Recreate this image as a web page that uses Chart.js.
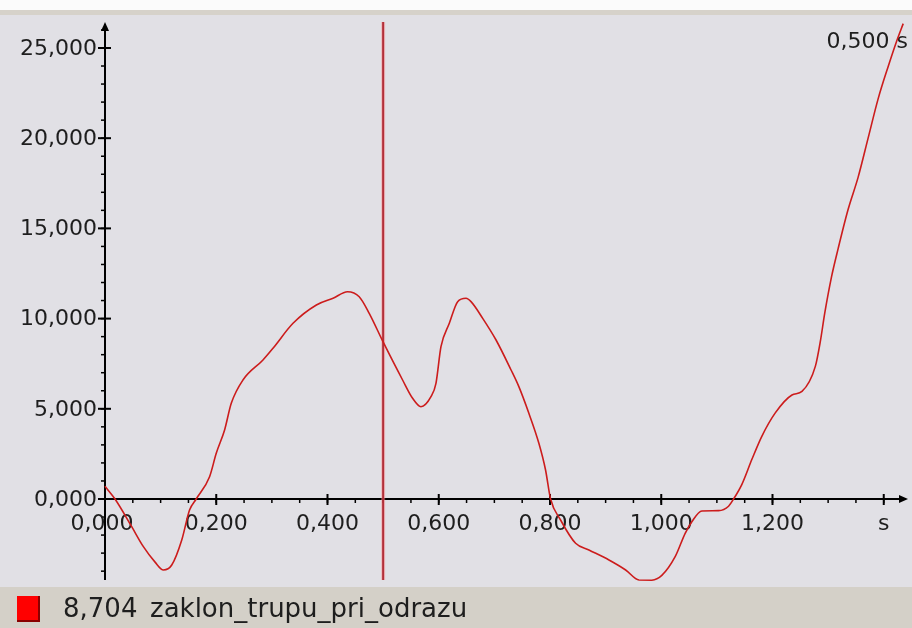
<!DOCTYPE html>
<html lang="cs">
<head>
    <meta charset="UTF-8" />
    <script src="https://cdn.jsdelivr.net/npm/chart.js"></script>
    <title>zaklon_trupu_pri_odrazu</title>
    <style>
        body { margin: 0; background: #e1e0e5; overflow: hidden; }
        canvas { display: block; }
    </style>
</head>
<body>
    <canvas id="graf" width="912" height="628"></canvas>
<script>

// cas [s]
var casy = [
    0.000, 0.018, 0.048, 0.069, 0.090, 0.105, 0.120, 0.138, 0.152, 0.164,
    0.188, 0.200, 0.215, 0.227, 0.248, 0.284, 0.302, 0.338, 0.380, 0.410,
    0.436, 0.457, 0.475, 0.500, 0.535, 0.553, 0.568, 0.586, 0.595, 0.604,
    0.619, 0.634, 0.649, 0.658, 0.679, 0.703, 0.730, 0.744, 0.762, 0.780,
    0.792, 0.801, 0.819, 0.846, 0.870, 0.906, 0.936, 0.960, 0.983, 1.001,
    1.025, 1.043, 1.055, 1.073, 1.103, 1.121, 1.130, 1.145, 1.163, 1.181,
    1.205, 1.235, 1.253, 1.277, 1.286, 1.294, 1.306, 1.318, 1.336, 1.354,
    1.372, 1.390, 1.408, 1.423, 1.435
];

// zaklon trupu
var hodnoty = [
    0.700, 0.000, -1.535, -2.643, -3.500, -3.935, -3.658, -2.272, -0.610, 0.000,
    1.236, 2.533, 3.825, 5.305, 6.596, 7.705, 8.353, 9.739, 10.754, 11.125,
    11.491, 11.214, 10.293, 8.704, 6.596, 5.582, 5.116, 5.670, 6.413, 8.444,
    9.739, 10.938, 11.125, 10.938, 10.015, 8.813, 7.151, 6.226, 4.750, 3.087,
    1.607, 0.000, -1.164, -2.456, -2.827, -3.381, -3.935, -4.490, -4.500, -4.236,
    -3.198, -1.901, -1.258, -0.665, -0.647, -0.400, 0.000, 0.815, 2.200, 3.487,
    4.772, 5.765, 5.964, 7.350, 8.736, 10.316, 12.300, 13.880, 16.058, 17.843,
    20.016, 22.194, 23.979, 25.365, 26.351
];

var xTicks = [0, 0.2, 0.4, 0.6, 0.8, 1.0, 1.2, 1.4];
var xTickLabels = ["0,000", "0,200", "0,400", "0,600", "0,800", "1,000", "1,200", "s"];
var yTicks = [0, 5, 10, 15, 20, 25];
var yTickLabels = ["0,000", "5,000", "10,000", "15,000", "20,000", "25,000"];

var kurzorCas = 0.500;
var kurzorHodnota = 8.704;
var nazev = "zaklon_trupu_pri_odrazu";

function cislo(v) {
    return v.toFixed(3).replace(".", ",");
}

var body = [];
for (var i = 0; i < casy.length; i++) {
    body.push({ x: casy[i], y: hodnoty[i] });
}

var pismo = '22px "DejaVu Sans"';

// pozadi, osy a kurzor
var osyPlugin = {
    id: "osy",
    beforeDraw: function (chart) {
        var ctx = chart.ctx;
        ctx.save();
        ctx.fillStyle = "#fbfbfb";
        ctx.fillRect(0, 0, 912, 10);
        ctx.fillStyle = "#d6d2ca";
        ctx.fillRect(0, 10, 912, 5);
        ctx.fillStyle = "#e1e0e5";
        ctx.fillRect(0, 15, 912, 572);
        ctx.fillStyle = "#d4d0c8";
        ctx.fillRect(0, 587, 912, 41);
        ctx.restore();
    },
    beforeDatasetsDraw: function (chart) {
        var ctx = chart.ctx;
        var sx = chart.scales.x;
        var sy = chart.scales.y;
        var area = chart.chartArea;
        var x0 = sx.getPixelForValue(0);
        var y0 = sy.getPixelForValue(0);

        ctx.save();
        ctx.strokeStyle = "#000";
        ctx.fillStyle = "#000";
        ctx.lineWidth = 2;

        // osa y
        ctx.beginPath();
        ctx.moveTo(x0, area.top + 2);
        ctx.lineTo(x0, area.bottom);
        ctx.stroke();
        ctx.beginPath();
        ctx.moveTo(x0 - 4, area.top + 9);
        ctx.lineTo(x0, area.top);
        ctx.lineTo(x0 + 4, area.top + 9);
        ctx.closePath();
        ctx.fill();

        // osa x
        ctx.beginPath();
        ctx.moveTo(x0, y0);
        ctx.lineTo(area.right, y0);
        ctx.stroke();
        ctx.beginPath();
        ctx.moveTo(area.right - 7, y0 - 4);
        ctx.lineTo(area.right + 2, y0);
        ctx.lineTo(area.right - 7, y0 + 4);
        ctx.closePath();
        ctx.fill();

        // vedlejsi znacky
        ctx.lineWidth = 1.5;
        for (var v = -4; v <= 26; v++) {
            var py = sy.getPixelForValue(v);
            ctx.beginPath();
            ctx.moveTo(x0 - 4, py);
            ctx.lineTo(x0, py);
            ctx.stroke();
        }
        for (var k = 1; k <= 28; k++) {
            var px = sx.getPixelForValue(k * 0.05);
            ctx.beginPath();
            ctx.moveTo(px, y0);
            ctx.lineTo(px, y0 + 4);
            ctx.stroke();
        }

        // hlavni znacky a popisky
        ctx.lineWidth = 2;
        ctx.font = pismo;
        ctx.fillStyle = "#1e1e1e";
        ctx.textBaseline = "middle";
        ctx.textAlign = "right";
        for (var j = 0; j < yTicks.length; j++) {
            var ty = sy.getPixelForValue(yTicks[j]);
            ctx.beginPath();
            ctx.moveTo(x0 - 7, ty);
            ctx.lineTo(x0 + 6, ty);
            ctx.stroke();
            ctx.fillText(yTickLabels[j], x0 - 8, ty + 1);
        }
        ctx.textAlign = "center";
        for (var m = 0; m < xTicks.length; m++) {
            var tx = sx.getPixelForValue(xTicks[m]);
            if (m > 0) {
                ctx.beginPath();
                ctx.moveTo(tx, y0 - 5);
                ctx.lineTo(tx, y0 + 6);
                ctx.stroke();
            }
            ctx.fillText(xTickLabels[m], tx - (m == 0 ? 3 : 0), y0 + 25);
        }

        // kurzor
        var kx = sx.getPixelForValue(kurzorCas);
        ctx.strokeStyle = "rgba(255, 140, 140, 0.45)";
        ctx.lineWidth = 4;
        ctx.beginPath();
        ctx.moveTo(kx, area.top);
        ctx.lineTo(kx, area.bottom);
        ctx.stroke();
        ctx.strokeStyle = "#b3303a";
        ctx.lineWidth = 2;
        ctx.beginPath();
        ctx.moveTo(kx, area.top);
        ctx.lineTo(kx, area.bottom);
        ctx.stroke();

        ctx.fillStyle = "#1e1e1e";
        ctx.textAlign = "right";
        ctx.fillText(cislo(kurzorCas) + " s", 908, 42);
        ctx.restore();
    },
    afterDraw: function (chart) {
        var ctx = chart.ctx;
        ctx.save();
        // legenda
        ctx.fillStyle = "#ff0000";
        ctx.fillRect(17, 596, 23, 26);
        ctx.fillStyle = "#8a0000";
        ctx.fillRect(38, 596, 2, 26);
        ctx.fillRect(17, 620, 23, 2);
        ctx.fillStyle = "#1e1e1e";
        ctx.font = '26px "DejaVu Sans"';
        ctx.textBaseline = "middle";
        ctx.textAlign = "left";
        ctx.fillText(cislo(kurzorHodnota), 63, 610);
        ctx.fillText(nazev, 150, 610);
        ctx.restore();
    }
};

var chart = new Chart(document.getElementById("graf"), {
    type: "line",
    data: {
        datasets: [
            {
                label: nazev,
                data: body,
                borderColor: "#cc1c1c",
                borderWidth: 1.6,
                pointRadius: 0,
                cubicInterpolationMode: "monotone",
                clip: false,
            },
        ],
    },
    options: {
        responsive: false,
        animation: false,
        layout: {
            padding: { left: 105, right: 6, top: 22, bottom: 48 },
        },
        plugins: {
            legend: { display: false },
            tooltip: { enabled: false },
        },
        scales: {
            x: { type: "linear", min: 0, max: 1.44, display: false },
            y: { type: "linear", min: -4.49, max: 26.44, display: false },
        },
    },
    plugins: [osyPlugin],
});
</script>
</body>
</html>
